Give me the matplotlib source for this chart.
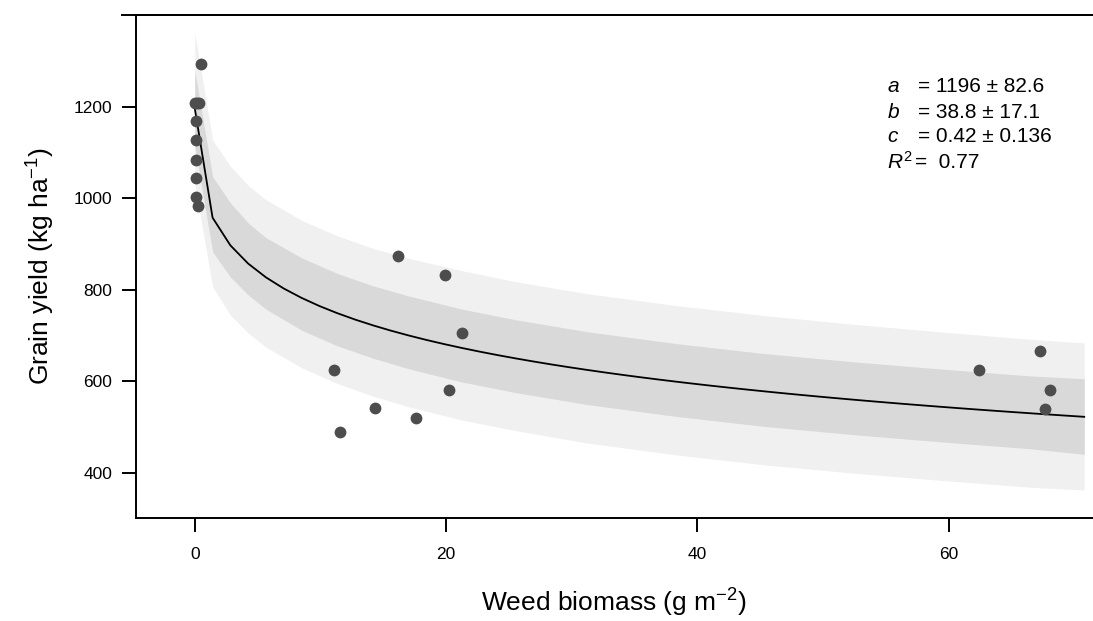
import numpy as np
import matplotlib.pyplot as plt
from matplotlib.lines import Line2D

plt.rcParams['font.family'] = ['Liberation Sans', 'DejaVu Sans']
plt.rcParams['mathtext.fontset'] = 'custom'
plt.rcParams['mathtext.rm'] = 'Liberation Sans'
plt.rcParams['mathtext.it'] = 'Liberation Sans:italic'

# observed weed biomass (g m-2) and grain yield (kg ha-1)
biomass = [0.48, 0.05, 0.35, 0.2, 0.1, 0.1, 0.08, 0.1, 0.1, 0.26,
           16.17, 19.93, 21.26, 11.07, 20.23, 14.34, 17.6, 11.57,
           62.46, 67.3, 68.1, 67.7]
grain_yield = [1293, 1207, 1207, 1207, 1169, 1127, 1083, 1044, 1003, 983,
               875, 832, 706, 624, 582, 542, 521, 489,
               625, 667, 581, 539]

# fitted parameters of y = a / (1 + (x / b)^c)
a, b, c = 1196, 38.8, 0.42
se_a, se_b, se_c = 82.6, 17.1, 0.136
r2 = 0.77

# uncertainty bands around the fit
band_x = [0, 1.42, 2.83, 4.25, 5.66, 8.5, 11.33, 14.16, 16.99, 21.24,
          25.49, 31.15, 38.23, 45.31, 52.39, 59.47, 66.55, 70.8]
inner_hi = [1279, 1047, 990, 946, 914, 870, 836, 809, 787, 758,
            735, 709, 683, 661, 643, 627, 612, 606]
inner_lo = [1113, 883, 828, 789, 758, 712, 678, 651, 628, 599,
            576, 550, 524, 502, 484, 468, 453, 441]
outer_hi = [1361, 1127, 1070, 1028, 997, 952, 918, 891, 869, 842,
            818, 792, 766, 744, 725, 708, 692, 684]
outer_lo = [1031, 807, 745, 706, 675, 630, 596, 568, 545, 516,
            493, 466, 440, 418, 400, 384, 369, 363]

fig = plt.figure(figsize=(10.93, 6.21), dpi=100)
ax = fig.add_axes([0.1242, 0.1659, 0.8758, 0.8099])

ax.fill_between(band_x, outer_lo, outer_hi, color='#f0f0f0', lw=0)
ax.fill_between(band_x, inner_lo, inner_hi, color='#d9d9d9', lw=0)

xs = np.linspace(0, 70.8, 51)
ax.plot(xs, a / (1 + (xs / b) ** c), color='black', lw=1.3)

ax.plot(biomass, grain_yield, 'o', color='#4d4d4d', ms=8.5, mew=0)

ax.set_xlim(-4.7, 71.5)
ax.set_ylim(302, 1400)
ax.set_xticks([0, 20, 40, 60])
ax.set_yticks([400, 600, 800, 1000, 1200])
ax.tick_params(labelsize=12.5, length=10, width=1.4, pad=11)
ax.tick_params(axis='y', pad=7)
ax.spines['right'].set_visible(False)
for side in ['left', 'bottom', 'top']:
    ax.spines[side].set_linewidth(1.4)

# top border reaches over the tick marks
fig.add_artist(Line2D([122 / 1093, 1], [1 - 15 / 621] * 2, color='black', lw=1.4))

ax.set_xlabel(r'Weed biomass (g m$^{-2}$)', fontsize=19, labelpad=18)
ax.set_ylabel(r'Grain yield (kg ha$^{-1}$)', fontsize=19, labelpad=12)

rows = [(r'$a$', f'= {a} ± {se_a}'), (r'$b$', f'= {b} ± {se_b}'),
        (r'$c$', f'= {c} ± {se_c}')]
ypos = [86.5, 112, 137]
for (lab, val), yy in zip(rows, ypos):
    fig.text(887 / 1093, 1 - yy / 621, lab, fontsize=15, va='center')
    fig.text(918 / 1093, 1 - yy / 621, val, fontsize=15, va='center')
fig.text(887 / 1093, 1 - 162 / 621, r'$R^2$', fontsize=15, va='center')
fig.text(915 / 1093, 1 - 162 / 621, f'=  {r2}', fontsize=15, va='center')

fig.savefig('out.png', dpi=100)
